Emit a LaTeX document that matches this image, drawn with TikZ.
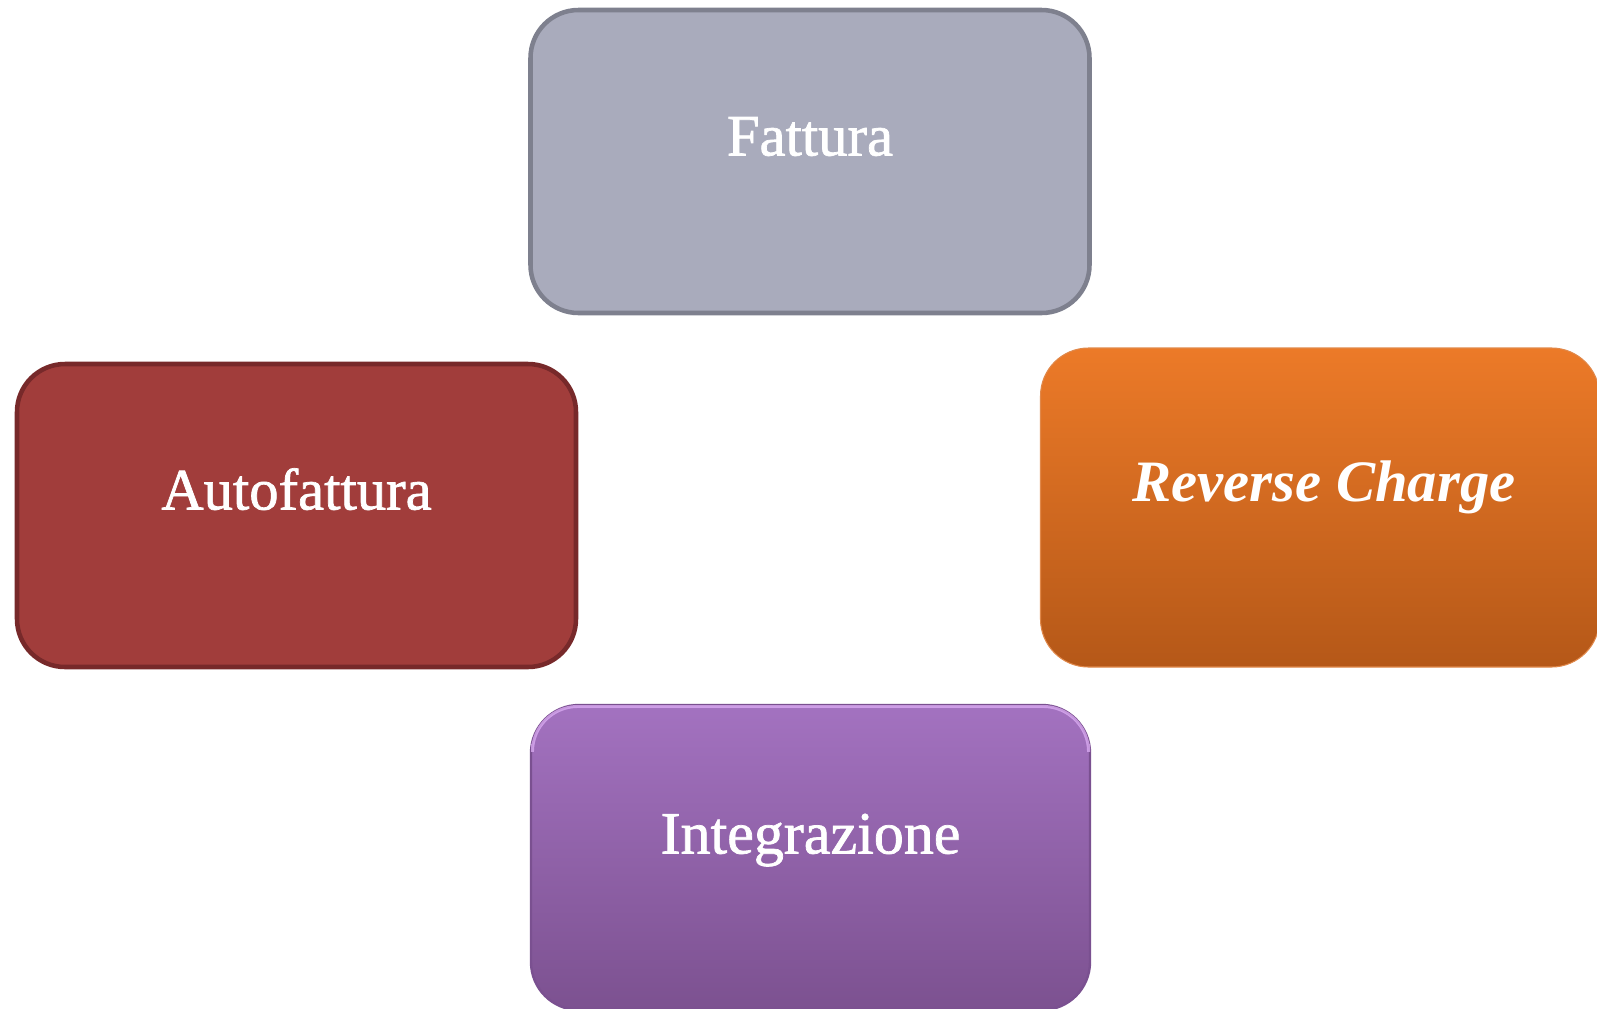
\documentclass[tikz,border=0pt]{standalone}
\usepackage{fontspec}
\setmainfont{Liberation Serif}
\newfontfamily\semibfont[FakeBold=1.2]{Liberation Serif}
\definecolor{fatfill}{HTML}{A9ABBC}
\definecolor{fatdraw}{HTML}{7E808E}
\definecolor{autfill}{HTML}{A13D3B}
\definecolor{autdraw}{HTML}{77292A}
\definecolor{revtop}{HTML}{EC7A28}
\definecolor{revbot}{HTML}{B55818}
\definecolor{revdraw}{HTML}{E0884A}
\definecolor{inttop}{HTML}{A372C0}
\definecolor{intbot}{HTML}{7C5190}
\definecolor{intdraw}{HTML}{7A5090}
\definecolor{inthi}{HTML}{DDAEF5}
\tikzset{
  boxbase/.style={rectangle, rounded corners=36pt, minimum width=419.25pt, minimum height=227.25pt, inner sep=0pt},
  lbl/.style={anchor=base, text=white, inner sep=0pt, font=\fontsize{44}{50}\selectfont},
}
\begin{document}
\begin{tikzpicture}[x=0.75pt,y=-0.75pt]
\useasboundingbox (0,0) rectangle (1597,1008);
\node[boxbase, fill=fatfill, draw=fatdraw, line width=3.4pt] (fat) at (810,161.5) {};
\node[boxbase, fill=autfill, draw=autdraw, line width=3.4pt] (aut) at (296.5,515.5) {};
\node[boxbase, minimum height=239.25pt, top color=revtop, bottom color=revbot, draw=revdraw, line width=0.8pt] (rev) at (1320,507.5) {};
\node[boxbase, minimum height=228.75pt, top color=inttop, bottom color=intbot, draw=intdraw, line width=1.8pt] (int) at (810.5,857.5) {};
\draw[inthi, line width=2.2pt, opacity=0.75, rounded corners=34pt]
  ([xshift=2pt,yshift=-30pt]int.north west) -- ([xshift=2pt,yshift=-2pt]int.north west)
  -- ([xshift=-2pt,yshift=-2pt]int.north east) -- ([xshift=-2pt,yshift=-30pt]int.north east);
\node[lbl] (fatT) at ([yshift=4.5pt]fat.center) {\semibfont Fattura};
\node[lbl] (autT) at ([yshift=4.5pt]aut.center) {\semibfont Autofattura};
\node[lbl] (revT) at ([xshift=3pt,yshift=4.5pt]rev.center) {\bfseries\itshape Reverse Charge};
\node[lbl] (intT) at ([yshift=3pt]int.center) {\semibfont\fontsize{45}{50}\selectfont Integrazione};
\end{tikzpicture}
\end{document}
